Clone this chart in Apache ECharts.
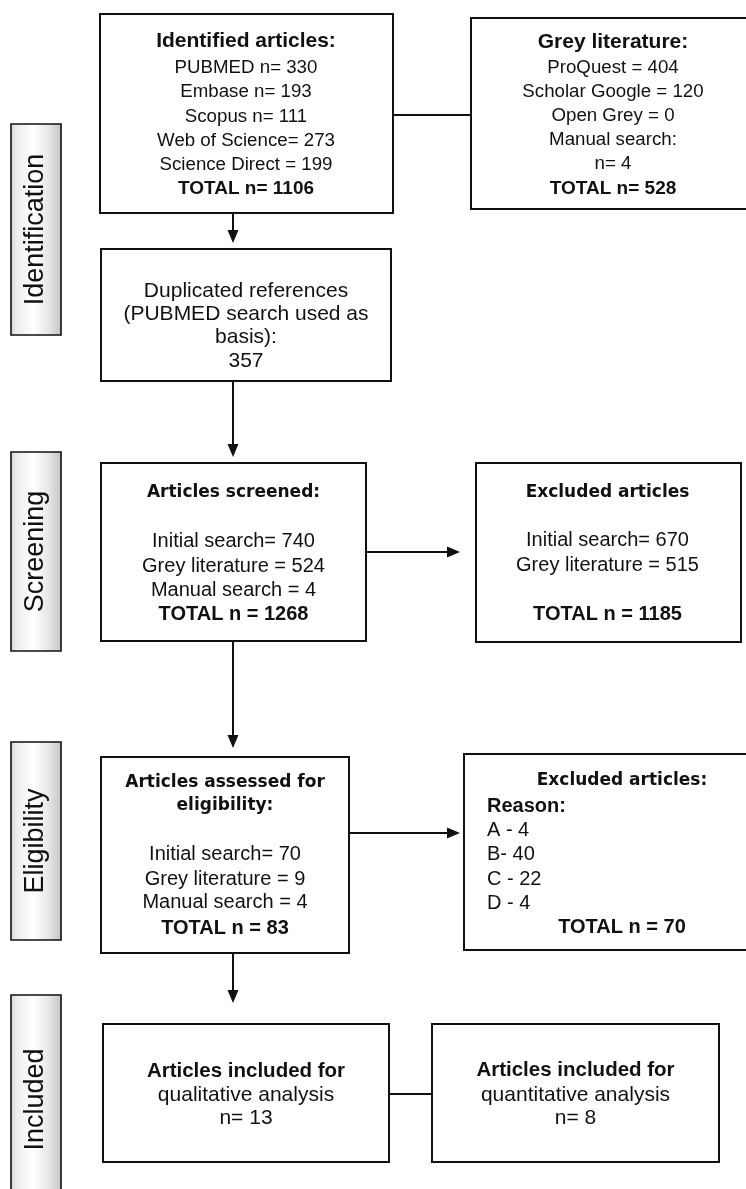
<!DOCTYPE html>
<html>
<head>
<meta charset="utf-8">
<script src="https://cdn.jsdelivr.net/npm/echarts@6/dist/echarts.min.js"></script>
<style>
html,body{margin:0;padding:0;background:#ffffff;}
#chart{width:746px;height:1189px;}
</style>
</head>
<body>
<div id="chart"></div>
<script>
// ---------------- DATA ----------------
const stages = ['Identification', 'Screening', 'Eligibility', 'Included'];

const dbSources = ['PUBMED n= ', 'Embase n= ', 'Scopus n= ', 'Web of Science= ', 'Science Direct = '];
const dbCounts = [330, 193, 111, 273, 199];
const dbTotal = 1106;

const greySources = ['ProQuest = ', 'Scholar Google = ', 'Open Grey = '];
const greyCounts = [404, 120, 0];
const greyManual = 4;
const greyTotal = 528;

const duplicates = 357;

const screenLabels = ['Initial search= ', 'Grey literature = ', 'Manual search = '];
const screenCounts = [740, 524, 4];
const screenTotal = 1268;

const screenExclLabels = ['Initial search= ', 'Grey literature = '];
const screenExclCounts = [670, 515];
const screenExclTotal = 1185;

const eligLabels = ['Initial search= ', 'Grey literature = ', 'Manual search = '];
const eligCounts = [70, 9, 4];
const eligTotal = 83;

const reasonLabels = ['A - ', 'B- ', 'C - ', 'D - '];
const reasonCounts = [4, 40, 22, 4];
const reasonTotal = 70;

const qualitativeN = 13;
const quantitativeN = 8;

// ---------------- TEXT CONTENT (built from data) ----------------
const boxTexts = {
  identified: ['Identified articles:'].concat(dbSources.map((s, i) => s + dbCounts[i]), ['TOTAL n= ' + dbTotal]),
  grey: ['Grey literature:'].concat(greySources.map((s, i) => s + greyCounts[i]), ['Manual search:', 'n= ' + greyManual, 'TOTAL n= ' + greyTotal]),
  dup: ['Duplicated references', '(PUBMED search used as', 'basis):', String(duplicates)],
  screen: ['Articles screened:'].concat(screenLabels.map((s, i) => s + screenCounts[i]), ['TOTAL n = ' + screenTotal]),
  screenExcl: ['Excluded articles'].concat(screenExclLabels.map((s, i) => s + screenExclCounts[i]), ['TOTAL n = ' + screenExclTotal]),
  elig: ['Articles assessed for', 'eligibility:'].concat(eligLabels.map((s, i) => s + eligCounts[i]), ['TOTAL n = ' + eligTotal]),
  eligExcl: ['Excluded articles:', 'Reason:'].concat(reasonLabels.map((s, i) => s + reasonCounts[i]), ['TOTAL n = ' + reasonTotal]),
  qual: ['Articles included for', 'qualitative analysis', 'n= ' + qualitativeN],
  quant: ['Articles included for', 'quantitative analysis', 'n= ' + quantitativeN]
};

// ---------------- STYLES / LAYOUT ----------------
const ARIAL = '"Liberation Sans", Arial, Helvetica, sans-serif';
const DEJAVU = '"DejaVu Sans", Verdana, sans-serif';
const mk = (w, s, f) => w + ' ' + s + 'px ' + f;
const FONTS = {
  title: mk('bold', 21, ARIAL),
  small: mk('normal', 18.7, ARIAL),
  smallB: mk('bold', 19, ARIAL),
  dup: mk('normal', 21, ARIAL),
  head: mk('bold', 17, DEJAVU),
  body: mk('normal', 20, ARIAL),
  bodyB: mk('bold', 20, ARIAL),
  incl: mk('normal', 21, ARIAL),
  inclB: mk('bold', 20.5, ARIAL),
  stage: mk('normal', 27, ARIAL)
};
const INK = '#111111';

const boxLayout = [
  {key: 'identified', rect: [100, 14, 393, 213], cx: 246,
   ys: [41.7, 67.8, 92, 116.7, 141, 165, 188.5],
   fonts: ['title', 'small', 'small', 'small', 'small', 'small', 'smallB']},
  {key: 'grey', rect: [471, 18, 760, 209], cx: 613,
   ys: [42, 67.5, 91.7, 115.8, 140, 164, 188.5],
   fonts: ['title', 'small', 'small', 'small', 'small', 'small', 'smallB']},
  {key: 'dup', rect: [101, 249, 391, 381], cx: 246,
   ys: [291, 314, 337.5, 361],
   fonts: ['dup', 'dup', 'dup', 'dup']},
  {key: 'screen', rect: [101, 463, 366, 641], cx: 233.5,
   ys: [493, 541, 566, 590, 614],
   fonts: ['head', 'body', 'body', 'body', 'bodyB']},
  {key: 'screenExcl', rect: [476, 463, 741, 642], cx: 607.5,
   ys: [492.3, 540, 565.7, 614],
   fonts: ['head', 'body', 'body', 'bodyB']},
  {key: 'elig', rect: [101, 757, 349, 953], cx: 225,
   ys: [782.3, 805.7, 854.3, 879.3, 902.7, 928.3],
   fonts: ['head', 'head', 'body', 'body', 'body', 'bodyB']},
  {key: 'eligExcl', rect: [464, 754, 760, 950], cx: 622, leftX: 487,
   ys: [780.7, 806.7, 830.7, 854.3, 879, 903.3, 927.3],
   fonts: ['head', 'bodyB', 'body', 'body', 'body', 'body', 'bodyB'],
   aligns: ['center', 'left', 'left', 'left', 'left', 'left', 'center']},
  {key: 'qual', rect: [103, 1024, 389, 1162], cx: 246,
   ys: [1071.7, 1095, 1118.3],
   fonts: ['inclB', 'incl', 'incl']},
  {key: 'quant', rect: [432, 1024, 719, 1162], cx: 575.5,
   ys: [1070.7, 1095, 1118],
   fonts: ['inclB', 'incl', 'incl']}
];

const stageLayout = [
  [11, 124, 61, 335],
  [11, 452, 61, 651],
  [11, 742, 61, 940],
  [11, 995, 61, 1204]
];

const connectorLayout = [
  {from: [233, 213], to: [233, 243], arrow: true},
  {from: [233, 381], to: [233, 457], arrow: true},
  {from: [233, 641], to: [233, 748], arrow: true},
  {from: [233, 953], to: [233, 1003], arrow: true},
  {from: [366, 552], to: [460, 552], arrow: true},
  {from: [349, 833], to: [460, 833], arrow: true},
  {from: [393, 115], to: [471, 115], arrow: false},
  {from: [389, 1094], to: [432, 1094], arrow: false}
];

// ---------------- RENDER ----------------
const chart = echarts.init(document.getElementById('chart'), null, {renderer: 'canvas', width: 746, height: 1189});

function rectShape(api, r) {
  const p0 = api.coord([r[0], r[1]]);
  const p1 = api.coord([r[2], r[3]]);
  return {x: Math.min(p0[0], p1[0]), y: Math.min(p0[1], p1[1]), width: Math.abs(p1[0] - p0[0]), height: Math.abs(p1[1] - p0[1])};
}

function textEl(api, x, y, text, fontKey, align, rotation) {
  const p = api.coord([x, y]);
  return {
    type: 'text',
    x: p[0], y: p[1],
    rotation: rotation || 0,
    silent: true,
    style: {
      text: text, x: 0, y: 0,
      fill: INK,
      font: FONTS[fontKey],
      textAlign: align || 'center',
      textVerticalAlign: 'middle',
      align: align || 'center',
      verticalAlign: 'middle'
    }
  };
}

function renderBox(params, api) {
  const b = boxLayout[api.value(0)];
  const texts = boxTexts[b.key];
  const children = [{
    type: 'rect',
    shape: rectShape(api, b.rect),
    style: {fill: '#ffffff', stroke: INK, lineWidth: 2}
  }];
  texts.forEach((t, i) => {
    const align = b.aligns ? b.aligns[i] : 'center';
    const x = align === 'left' ? b.leftX : b.cx;
    children.push(textEl(api, x, b.ys[i], t, b.fonts[i], align));
  });
  return {type: 'group', children: children};
}

function renderStage(params, api) {
  const i = api.value(0);
  const r = stageLayout[i];
  return {
    type: 'group',
    children: [
      {
        type: 'rect',
        shape: rectShape(api, r),
        style: {
          fill: new echarts.graphic.LinearGradient(0, 0, 1, 0, [
            {offset: 0, color: '#d2d2d2'},
            {offset: 0.12, color: '#ececec'},
            {offset: 0.45, color: '#ffffff'},
            {offset: 0.75, color: '#e6e6e6'},
            {offset: 1, color: '#c2c2c2'}
          ]),
          stroke: INK, lineWidth: 1.6
        }
      },
      textEl(api, (r[0] + r[2]) / 2, (r[1] + r[3]) / 2, stages[i], 'stage', 'center', Math.PI / 2)
    ]
  };
}

function renderConnector(params, api) {
  const c = connectorLayout[api.value(0)];
  const a = api.coord(c.from);
  const b = api.coord(c.to);
  const children = [];
  const HEAD = 13, HALF = 5.5;
  if (c.arrow) {
    const dx = b[0] - a[0], dy = b[1] - a[1];
    const len = Math.sqrt(dx * dx + dy * dy);
    const ux = dx / len, uy = dy / len;
    const bx = b[0] - ux * HEAD, by = b[1] - uy * HEAD;
    children.push({type: 'line', shape: {x1: a[0], y1: a[1], x2: bx + ux, y2: by + uy}, style: {stroke: INK, lineWidth: 2}});
    children.push({type: 'polygon', shape: {points: [
      [b[0], b[1]],
      [bx - uy * HALF, by + ux * HALF],
      [bx + uy * HALF, by - ux * HALF]
    ]}, style: {fill: INK}});
  } else {
    children.push({type: 'line', shape: {x1: a[0], y1: a[1], x2: b[0], y2: b[1]}, style: {stroke: INK, lineWidth: 2}});
  }
  return {type: 'group', children: children};
}

const option = {
  backgroundColor: '#ffffff',
  animation: false,
  grid: {left: 0, right: 0, top: 0, bottom: 0, containLabel: false},
  xAxis: {type: 'value', min: 0, max: 746, show: false},
  yAxis: {type: 'value', min: 0, max: 1189, inverse: true, show: false},
  tooltip: {show: false},
  series: [
    {
      type: 'custom', name: 'connectors', coordinateSystem: 'cartesian2d', silent: true, clip: false,
      renderItem: renderConnector,
      data: connectorLayout.map((c, i) => [i, 0])
    },
    {
      type: 'custom', name: 'stages', coordinateSystem: 'cartesian2d', silent: true, clip: false,
      renderItem: renderStage,
      data: stages.map((s, i) => [i, 0])
    },
    {
      type: 'custom', name: 'boxes', coordinateSystem: 'cartesian2d', silent: true, clip: false,
      renderItem: renderBox,
      data: boxLayout.map((b, i) => [i, 0])
    }
  ]
};
chart.setOption(option);
</script>
</body>
</html>
